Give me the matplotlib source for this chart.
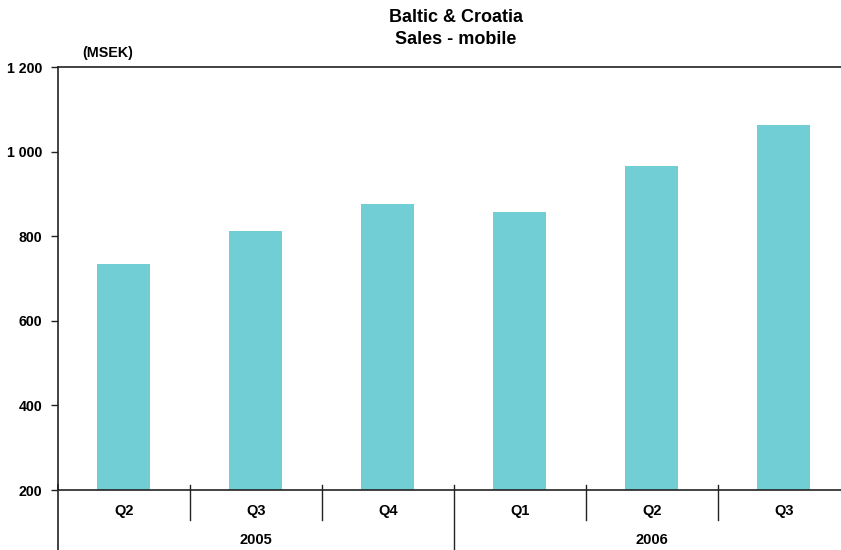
import matplotlib.pyplot as plt
from matplotlib.transforms import blended_transform_factory

plt.rcParams["font.family"] = ["Liberation Sans", "DejaVu Sans"]

quarters = ["Q2", "Q3", "Q4", "Q1", "Q2", "Q3"]
years = ["2005", "2006"]
quarters_per_year = [3, 3]
sales = [734, 812, 876, 857, 966, 1063]
y_ticks = [200, 400, 600, 800, 1000, 1200]
y_labels = ["200", "400", "600", "800", "1 000", "1 200"]

bar_color = "#71ced4"
line_color = "#222222"

fig = plt.figure(figsize=(8.41, 5.5), dpi=100)
ax = fig.add_axes([57.7 / 841, 60 / 550, 792 / 841, 423 / 550])

positions = list(range(len(sales)))
ax.bar(positions, [v - 200 for v in sales], bottom=200, width=0.4, color=bar_color)
ax.set_xlim(-0.5, len(sales) - 0.5)
ax.set_ylim(200, 1200)

ax.set_yticks(y_ticks)
ax.set_yticklabels(y_labels, fontweight="bold", fontsize=10.2)
ax.tick_params(axis="y", direction="out", length=5, width=1, pad=6, colors=line_color)
ax.tick_params(axis="y", labelcolor="black")
ax.set_xticks([])

for side in ("left", "top", "bottom"):
    ax.spines[side].set_color(line_color)
    ax.spines[side].set_linewidth(1.2)
ax.spines["right"].set_visible(False)

trans = blended_transform_factory(ax.transData, ax.transAxes)
px = 1 / 423  # one pixel in axes-height units

# quarter labels and dividers
for i, q in enumerate(quarters):
    ax.text(i, -21 * px, q, transform=trans, ha="center", va="center",
            fontsize=10.5, fontweight="bold", clip_on=False)
for i in range(1, len(quarters)):
    if i == 3:
        continue
    ax.plot([i - 0.5, i - 0.5], [5 * px, -30 * px], transform=trans,
            color=line_color, lw=1, clip_on=False)

# year labels and dividers
start = 0
for year, n in zip(years, quarters_per_year):
    ax.text(start + (n - 1) / 2, -50 * px, year, transform=trans, ha="center",
            va="center", fontsize=10.5, fontweight="bold", clip_on=False)
    ax.plot([start - 0.5, start - 0.5], [5 * px, -62 * px], transform=trans,
            color=line_color, lw=1.2 if start == 0 else 1, clip_on=False)
    start += n

ax.text(25 / 792, 1 + 14 * px, "(MSEK)", transform=ax.transAxes, ha="left",
        va="center", fontsize=10.3, fontweight="bold")

fig.text(456 / 841, 1 - 17 / 550, "Baltic & Croatia", ha="center", va="center",
         fontsize=13, fontweight="bold")
fig.text(456 / 841, 1 - 40 / 550, "Sales - mobile", ha="center", va="center",
         fontsize=13, fontweight="bold")

fig.savefig("out.png", dpi=100)
